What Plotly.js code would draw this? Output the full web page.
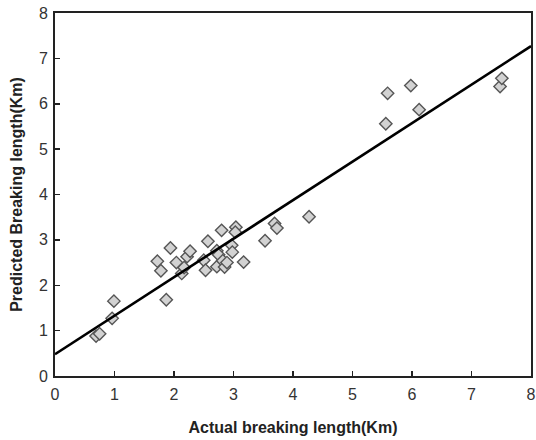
<!DOCTYPE html>
<html>
<head>
<meta charset="utf-8">
<script src="https://cdn.plot.ly/plotly-3.0.1.min.js"></script>
<style>
html,body{margin:0;padding:0;background:#fff;}
#chart{width:536px;height:440px;}
</style>
</head>
<body>
<div id="chart"></div>
<script>
// Actual vs predicted breaking length (Km)
const actual = [0.69, 0.75, 0.96, 0.99, 1.87, 1.72, 1.78, 1.94, 2.04, 2.13, 2.17, 2.22, 2.27,
  2.50, 2.53, 2.57, 2.72, 2.75, 2.72, 2.80, 2.82, 2.85, 2.89, 2.97, 2.98, 3.04, 3.03, 3.17,
  3.53, 3.69, 3.73, 4.27, 5.56, 5.59, 5.98, 6.12, 7.48, 7.51];
const predicted = [0.88, 0.93, 1.27, 1.65, 1.68, 2.53, 2.32, 2.82, 2.50, 2.26, 2.39, 2.63, 2.75,
  2.55, 2.33, 2.97, 2.76, 2.67, 2.41, 3.21, 2.54, 2.40, 2.50, 2.88, 2.73, 3.28, 3.17, 2.51,
  2.98, 3.36, 3.26, 3.51, 5.56, 6.23, 6.40, 5.87, 6.38, 6.56];
// fitted regression line (endpoints at axis limits)
const fitX = [0, 8];
const fitY = [0.48, 7.27];
const tickVals = [0, 1, 2, 3, 4, 5, 6, 7, 8];

const traces = [
  {
    x: actual, y: predicted, type: 'scatter', mode: 'markers',
    marker: {symbol: 'diamond', size: 9.5, color: '#d2d2d2', line: {color: '#555555', width: 1.4}},
    hoverinfo: 'x+y'
  },
  {
    x: fitX, y: fitY, type: 'scatter', mode: 'lines',
    line: {color: '#000000', width: 2.6}
  }
];

const axisCommon = {
  range: [0, 8], tickvals: tickVals, ticks: 'inside', ticklen: 5, tickwidth: 1.5, tickcolor: '#222',
  showline: true, linecolor: '#222', linewidth: 2, mirror: true,
  showgrid: false, zeroline: false,
  tickfont: {family: 'Liberation Sans, Arial, sans-serif', size: 16, color: '#333'}
};

const layout = {
  width: 536, height: 440,
  margin: {l: 55, r: 5, t: 13, b: 64},
  paper_bgcolor: '#fff', plot_bgcolor: '#fff',
  showlegend: false,
  xaxis: Object.assign({}, axisCommon, {
    ticklabelstandoff: 3,
    title: {text: 'Actual breaking length(Km)', standoff: 20,
      font: {family: 'Liberation Sans, Arial, sans-serif', size: 16, color: '#222', weight: 'bold'}}
  }),
  yaxis: Object.assign({}, axisCommon, {
    ticklabelstandoff: 2,
    title: {text: 'Predicted Breaking length(Km)', standoff: 12,
      font: {family: 'Liberation Sans, Arial, sans-serif', size: 16, color: '#222', weight: 'bold'}}
  })
};

Plotly.newPlot('chart', traces, layout, {displayModeBar: false, staticPlot: true});
</script>
</body>
</html>
